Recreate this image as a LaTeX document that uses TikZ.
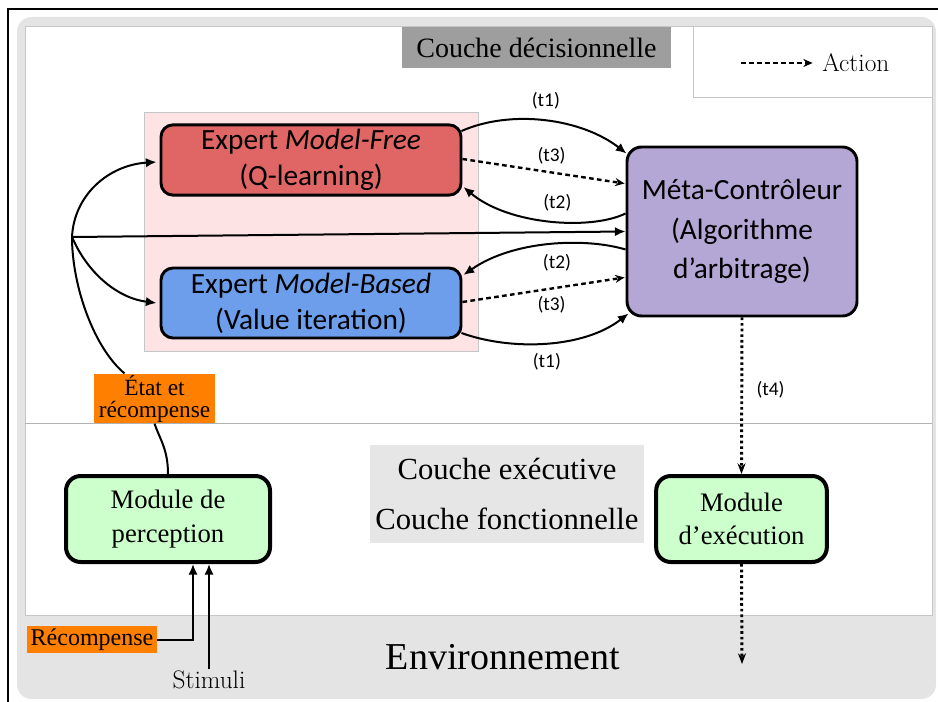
\documentclass[tikz,border=0pt]{standalone}
\usepackage{fontspec}
\newfontfamily\tnrfont{Liberation Serif}
\newfontfamily\calfont{Carlito}
\usetikzlibrary{positioning}
\usetikzlibrary{calc}
\usetikzlibrary{arrows.meta}
\definecolor{mfred}{HTML}{E06666}
\definecolor{mbblue}{HTML}{6D9EEB}
\definecolor{metaviolet}{HTML}{B4A7D6}
\definecolor{modgreen}{HTML}{CCFFCC}
\definecolor{lblorange}{HTML}{FF8000}
\definecolor{pinkbg}{HTML}{FDE3E3}
\definecolor{bggray}{HTML}{E4E4E4}
\definecolor{cdecgray}{HTML}{9E9E9E}
\definecolor{cexegray}{HTML}{E6E6E6}
\tikzset{
    expert/.style = {rectangle, rounded corners=9pt, line width=2.2pt, draw=black, align=center,
                     minimum width=225pt, minimum height=52.5pt, font=\calfont\fontsize{22}{27}\selectfont},
    metabox/.style = {rectangle, rounded corners=11pt, line width=2.2pt, draw=black, align=center, fill=metaviolet,
                     minimum width=172.5pt, minimum height=126.75pt, font=\calfont\fontsize{22}{29.5}\selectfont},
    module/.style = {rectangle, rounded corners=11pt, line width=3pt, draw=black, align=center, fill=modgreen,
                     minimum height=64.5pt, font=\tnrfont\fontsize{20}{25}\selectfont},
    orng/.style = {rectangle, fill=lblorange, align=center, inner sep=1pt, font=\tnrfont\fontsize{17.5}{16.5}\selectfont},
    tlab/.style = {font=\calfont\fontsize{14.5}{16}\selectfont, inner sep=2pt},
    edgen/.style = {-{Latex[length=8pt,width=7pt]}, line width=1.5pt},
    edgel/.style = {line width=1.5pt},
    edged/.style = {-{Stealth[length=7pt,width=6pt]}, line width=1.8pt, dash pattern=on 3.5pt off 2.5pt},
    edgev/.style = {-{Stealth[length=8pt,width=6pt]}, line width=2.2pt, dash pattern=on 2pt off 2.2pt},
}

\begin{document}
\begin{tikzpicture}[x=0.75pt,y=-0.75pt]
\useasboundingbox (0,0) rectangle (938,702);
% frame and layers
\draw[line width=0.8pt] (8,702) -- (8,9) -- (938,9);
\fill[bggray, rounded corners=11pt] (17,17) rectangle (936,699);
\filldraw[fill=white, draw=gray!45] (25,26) rectangle (932,615);
\draw[gray!60] (25,423) -- (932,423);
\filldraw[fill=pinkbg, draw=gray!45] (144,112) rectangle (478,351);
\draw[gray!45] (693,26) rectangle (932,97);
%
\node[fill=cdecgray, minimum width=202pt, minimum height=31pt, font=\tnrfont\fontsize{21}{24}\selectfont] (cdec) at (536.5,47.5) {Couche décisionnelle};
\node[fill=cexegray, align=center, minimum width=205.5pt, minimum height=73.5pt, font=\tnrfont\fontsize{23}{37}\selectfont] (cexe) at (507,494) {Couche exécutive\\Couche fonctionnelle};
\node[font=\tnrfont\fontsize{28.5}{30}\selectfont] (env) at (503,657) {Environnement};
%
\node[expert, fill=mfred] (mfree) at (311,160) {Expert \textit{Model-Free}\\(Q-learning)};
\node[expert, fill=mbblue] (mbased) at (311,303) {Expert \textit{Model-Based}\\(Value iteration)};
\node[metabox] (meta) at (742,231.5) {Méta-Contrôleur\\(Algorithme\\d’arbitrage)};
\node[module, minimum width=153pt] (percep) at (168,519) {Module de\\perception};
\node[module, minimum width=128pt] (exec) at (741.5,519) {Module\\d’exécution};
\node[orng, minimum width=91pt, minimum height=37pt] (etat) at (154.5,398.5) {État et\\récompense};
\node[orng, minimum width=97.5pt, minimum height=20pt, font=\tnrfont\fontsize{18}{20}\selectfont] (recomp) at (92,639.5) {Récompense};
\node[font=\fontsize{19}{22}\selectfont, inner sep=1pt] (stim) at (209,680) {Stimuli};
% legend
\node[anchor=west, inner sep=0pt, font=\fontsize{19}{22}\selectfont] (lgact) at (822,63) {Action};
\coordinate (lgs) at (741,63);
\draw[edged, shorten >=7pt] (lgs) -- (lgact.west);
%
\coordinate (branch) at (72,237);
\draw[edgel] ($(etat.north)+(-30,0)$) .. controls +(-30,-25) and +(0,50) .. (branch);
\draw[edgen] (branch) .. controls +(2,-42) and +(-48,3) .. ($(mfree.west)+(-3,2)$);
\draw[edgen] (branch) .. controls +(15,35) and +(-40,-5) .. ($(mbased.west)+(-3,0)$);
\draw[edgen] (branch) -- (meta.west);
\draw[edgel] (percep.north) .. controls +(0,-25) and +(5,15) .. ($(etat.south)+(0,0)$);
%
\draw[edgen] ($(mfree.east)+(-1,-29)$) .. controls +(50,-22) and +(-45,-35) .. ($(meta.north west)+(1,8)$)
    node[tlab, pos=0.5, above=6pt] {(t1)};
\draw[edged] ($(mfree.east)+(0,-1)$) -- ($(meta.west)+(-1,-48)$)
    node[tlab, pos=0.55, above=3pt] {(t3)};
\draw[edgen] ($(meta.west)+(0,-18)$) .. controls +(-35,17) and +(45,38) .. ($(mfree.east)+(1,27)$)
    node[tlab, pos=0.45, above=5pt] {(t2)};
\draw[edgen] ($(meta.west)+(0,18)$) .. controls +(-40,-12) and +(50,-35) .. ($(mbased.east)+(1,-28)$)
    node[tlab, pos=0.45, below=5pt] {(t2)};
\draw[edged] ($(mbased.east)+(0,-1)$) -- ($(meta.west)+(-1,46)$)
    node[tlab, pos=0.55, below=3pt] {(t3)};
\draw[edgen] ($(mbased.east)+(-1,30)$) .. controls +(50,18) and +(-45,35) .. ($(meta.south west)+(3,-4)$)
    node[tlab, pos=0.5, below=5pt] {(t1)};
%
\draw[edgev] (meta.south) -- (exec.north) node[tlab, pos=0.46, right=8pt] {(t4)};
\coordinate (envout) at (742,664);
\draw[edgev] (exec.south) -- (envout);
\draw[edgen] (recomp.east) -| ($(percep.south)+(25,0)$);
\draw[edgen] (stim.north) -- (stim.north |- percep.south);
\end{tikzpicture}
\end{document}
